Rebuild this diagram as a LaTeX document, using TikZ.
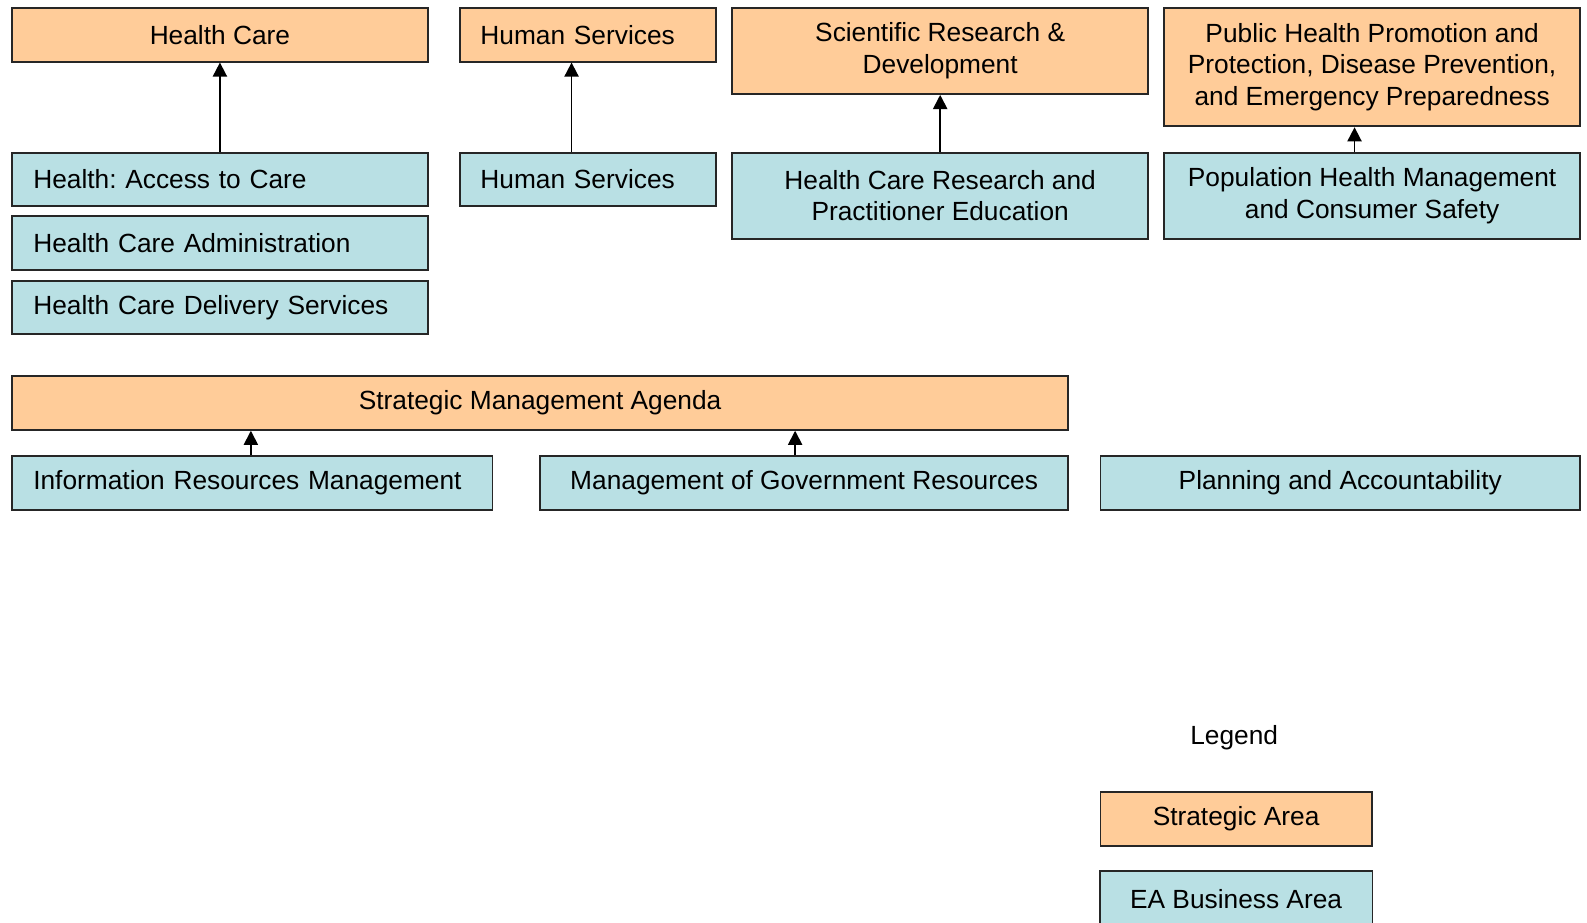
\documentclass[tikz,border=0pt]{standalone}
\usepackage{fontspec}
\setmainfont{Liberation Sans}
\usetikzlibrary{arrows.meta,backgrounds}
\definecolor{saorange}{HTML}{FFCC99}
\definecolor{eablue}{HTML}{B9E0E4}
\frenchspacing
\begin{document}
\begin{tikzpicture}[x=1pt,y=-1pt,
  box/.style={draw=black!85, line width=1.8pt, rectangle, inner sep=0pt, anchor=north west,
    font=\fontsize{26}{31.5}\selectfont, align=center},
  sa/.style={box, fill=saorange},
  ea/.style={box, fill=eablue},
  arr/.style={line width=1.8pt, -{Triangle[length=14pt,width=14pt]}}]
\useasboundingbox (0,0) rectangle (1568.8,912.4);
\clip (0,0) rectangle (1568.8,912.4);
% strategic areas (top row)
\node[sa, minimum width=411, minimum height=53] (hc) at (11,7) {Health Care};
\node[sa, minimum width=253, minimum height=53, text width=213, align=left] (hs1) at (454,7) {Human Services};
\node[sa, minimum width=411, minimum height=85] (srd) at (723,7) {Scientific Research \&\\Development};
\node[sa, minimum width=411, minimum height=117] (ph) at (1150,7) {Public Health Promotion and\\Protection, Disease Prevention,\\and Emergency Preparedness};
% business areas
\node[ea, minimum width=411, minimum height=53, text width=369, align=left] (hac) at (11,150) {Health: Access to Care};
\node[ea, minimum width=253, minimum height=53, text width=213, align=left] (hs2) at (454,150) {Human Services};
\node[ea, minimum width=411, minimum height=85] (hcr) at (723,150) {Health Care Research and\\Practitioner Education};
\node[ea, minimum width=411, minimum height=85] (phm) at (1150,150) {Population Health Management\\and Consumer Safety};
\node[ea, minimum width=411, minimum height=53, text width=369, align=left] (hca) at (11,213) {Health Care Administration};
\node[ea, minimum width=411, minimum height=52, text width=369, align=left] (hcd) at (11,277) {Health Care Delivery Services};
% strategic management
\node[sa, minimum width=1044, minimum height=53] (sma) at (11,371) {Strategic Management Agenda};
\node[ea, minimum width=475, minimum height=53, text width=433, align=left] (irm) at (11,450) {Information Resources Management};
\node[ea, minimum width=522, minimum height=53] (mgr) at (533,450) {Management of Government Resources};
\node[ea, minimum width=474, minimum height=53] (pa) at (1087,450) {Planning and Accountability};
% legend
\node[font=\fontsize{26}{31.5}\selectfont] (leg) at (1220,729) {Legend};
\node[sa, minimum width=268, minimum height=53] (lsa) at (1087,782) {Strategic Area};
\node[ea, minimum width=268, minimum height=53, draw=none, fill=none] (lea) at (1087,861) {EA Business Area};
\begin{pgfonlayer}{background}
\draw[draw=black!85, line width=1.8pt, fill=eablue] (lea.north west) rectangle ([yshift=-20pt]lea.south east);
\end{pgfonlayer}
% arrows
\draw[arr] (hac.north) -- (hc.south);
\draw[arr] ([xshift=111pt]hs2.north west) -- ([xshift=111pt]hs1.south west);
\draw[arr] (hcr.north) -- (srd.south);
\draw[arr] ([xshift=189pt]phm.north west) -- ([xshift=189pt]ph.south west);
\draw[arr] ([xshift=237pt]irm.north west) -- ([xshift=237pt]irm.north west |- sma.south);
\draw[arr] ([xshift=253pt]mgr.north west) -- ([xshift=253pt]mgr.north west |- sma.south);
\end{tikzpicture}
\end{document}
